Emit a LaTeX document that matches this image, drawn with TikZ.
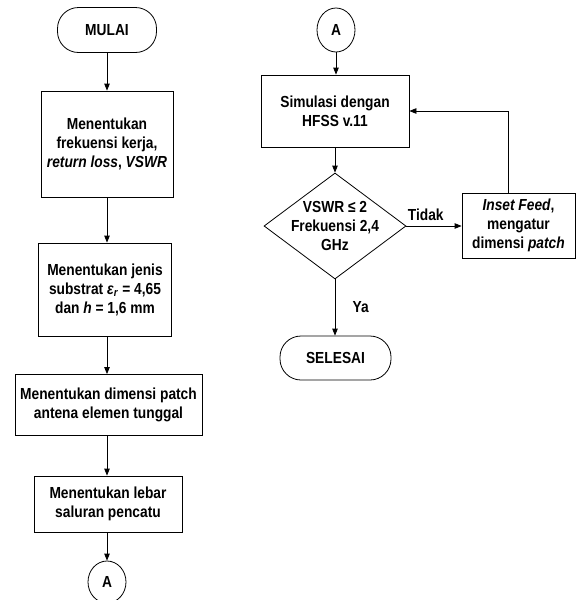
\documentclass[tikz,border=0pt]{standalone}
\usepackage{fontspec}
\setmainfont{Liberation Sans}[FakeStretch=0.86]
\usetikzlibrary{shapes.geometric, arrows.meta, positioning}

\tikzset{
  base/.style={draw=black, line width=0.8pt, align=center, inner sep=1pt,
    font=\bfseries\fontsize{16}{19}\selectfont},
  terminal/.style={base, rectangle, rounded corners=21pt},
  process/.style={base, rectangle},
  decision/.style={draw=black, line width=0.8pt, diamond, inner sep=0pt},
  connector/.style={base, ellipse, inner sep=0pt},
  arrowline/.style={draw=black, line width=0.8pt, -{Triangle[length=7pt,width=5.5pt]}},
  flowlabel/.style={font=\bfseries\fontsize{16}{19}\selectfont}
}

\begin{document}
\begin{tikzpicture}[x=1pt, y=-1pt]
  \useasboundingbox (0,0) rectangle (576,600);

  % Left column
  \node[terminal, minimum width=99pt, minimum height=45pt] (mulai) at (107,30) {MULAI};
  \node[process, minimum width=132pt, minimum height=106pt] (frek) at (107,144)
    {Menentukan\\frekuensi kerja,\\\textit{return loss}, \textit{VSWR}};
  \node[process, minimum width=133pt, minimum height=93pt] (substrat) at (105,289.5)
    {Menentukan jenis\\substrat \textit{ε}\textsubscript{\textit{r}} = 4,65\\dan \textit{h} = 1,6 mm};
  \node[process, minimum width=187pt, minimum height=61pt] (dimensi) at (108.5,405)
    {Menentukan dimensi patch\\antena elemen tunggal};
  \node[process, minimum width=148pt, minimum height=56pt] (lebar) at (108,504)
    {Menentukan lebar\\saluran pencatu};
  \node[connector, minimum width=38pt, minimum height=42pt] (conA) at (107,582) {A};

  % Right column
  \node[connector, minimum width=38pt, minimum height=44pt] (conB) at (336,30) {A};
  \node[process, minimum width=148pt, minimum height=72pt] (sim) at (335,111)
    {Simulasi dengan\\HFSS v.11};
  \node[decision, minimum width=142pt, minimum height=106pt] (cek) at (335,226) {};
  \node[flowlabel, align=center] (cektext) at (cek)
    {VSWR ≤ 2\\Frekuensi 2,4\\GHz};
  \node[process, minimum width=113pt, minimum height=65pt] (inset) at (518.5,225.5)
    {\textit{Inset Feed},\\mengatur\\dimensi \textit{patch}};
  \node[terminal, minimum width=111pt, minimum height=44pt] (selesai) at (335.5,358) {SELESAI};

  \coordinate (balik) at (508,111);

  % Connectors
  \draw[arrowline] (mulai) -- (frek);
  \draw[arrowline] (frek) -- (substrat.north -| frek);
  \draw[arrowline] (substrat.south -| frek) -- (dimensi.north -| frek);
  \draw[arrowline] (dimensi.south -| frek) -- (lebar.north -| frek);
  \draw[arrowline] (lebar.south -| frek) -- (conA);
  \draw[arrowline] (conB) -- (sim.north -| conB);
  \draw[arrowline] (sim.south -| cek) -- (cek.north);
  \draw[arrowline] (cek.east) -- node[flowlabel, pos=0.35, above=2pt] {Tidak} (inset.west |- cek.east);
  \draw[arrowline] (cek.south) -- node[flowlabel, midway, right=14pt] {Ya} (selesai.north -| cek);
  \draw[arrowline] (inset.north -| balik) -- (balik) -- (sim.east);
\end{tikzpicture}
\end{document}
